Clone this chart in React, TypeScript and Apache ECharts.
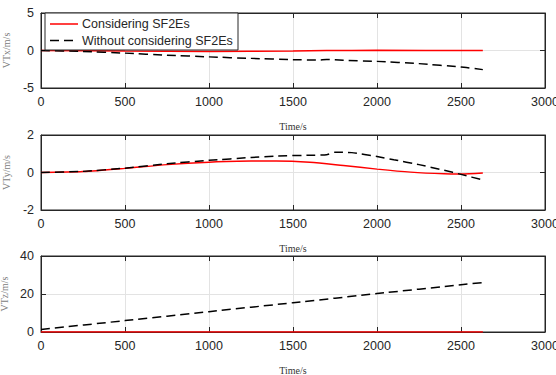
import React, { useEffect, useRef } from "react";
import * as echarts from "echarts";

const legendNames = ["Considering SF2Es", "Without considering SF2Es"];

// Panel 1: VTx
const tX_with = [0, 500, 1000, 1500, 1700, 2000, 2630];
const vX_with = [0, -0.08, -0.12, -0.08, 0, 0.02, 0];
const tX_without = [0, 250, 500, 750, 1000, 1250, 1500, 1650, 1700, 1800, 2000, 2250, 2500, 2630];
const vX_without = [0, -0.12, -0.35, -0.62, -0.85, -1.05, -1.22, -1.28, -1.2, -1.3, -1.45, -1.75, -2.2, -2.55];

// Panel 2: VTy
const tY_with = [0, 250, 500, 750, 1000, 1250, 1400, 1600, 1800, 2000, 2200, 2400, 2500, 2630];
const vY_with = [0, 0.05, 0.22, 0.42, 0.55, 0.61, 0.62, 0.55, 0.37, 0.18, 0.02, -0.07, -0.08, -0.03];
const tY_without = [0, 250, 500, 750, 1000, 1250, 1400, 1600, 1700, 1750, 1850, 2000, 2100, 2250, 2400, 2500, 2630];
const vY_without = [0, 0.06, 0.23, 0.47, 0.65, 0.8, 0.88, 0.92, 0.95, 1.08, 1.06, 0.85, 0.68, 0.42, 0.12, -0.1, -0.4];

// Panel 3: VTz
const tZ_with = [0, 2630];
const vZ_with = [0, 0];
const tZ_without = [0, 500, 1000, 1500, 2000, 2500, 2630];
const vZ_without = [1.3, 6.0, 10.7, 15.4, 20.2, 24.9, 26.0];

const yNames = ["VTx/m/s", "VTy/m/s", "VTz/m/s"];
const yRanges = [
  { min: -5, max: 5, interval: 5 },
  { min: -2, max: 2, interval: 2 },
  { min: 0, max: 40, interval: 20 },
];
const gridTops = [13, 135, 256];
const gridHeights = [75, 75, 76];

const zip = (t: number[], v: number[]) => t.map((x, i) => [x, v[i]]);

export default function App() {
  const ref = useRef<HTMLDivElement>(null);
  useEffect(() => {
    if (!ref.current) return;
    const chart = echarts.init(ref.current, undefined, { renderer: "svg" });
    const axisColor = "#262626";
    const labelFont = { color: axisColor, fontFamily: "Liberation Sans, Arial", fontSize: 12.5 };
    const fmt = (v: number) => String(v);
    const grids = gridTops.map((top, i) => ({
      left: 41,
      top,
      width: 504,
      height: gridHeights[i],
      containLabel: false,
      outerBoundsMode: "none",
      show: true,
      borderColor: axisColor,
      borderWidth: 1,
      backgroundColor: "#fff",
    }));
    const xAxes: any[] = [];
    const yAxes: any[] = [];
    gridTops.forEach((_, i) => {
      xAxes.push({
        type: "value",
        gridIndex: i,
        min: 0,
        max: 3000,
        interval: 500,
        position: "bottom",
        name: "Time/s",
        nameLocation: "middle",
        nameGap: 33,
        nameTextStyle: { fontFamily: "Liberation Serif, Times New Roman", fontSize: 10, color: "#333" },
        axisLine: { show: true, onZero: false, lineStyle: { color: axisColor } },
        axisTick: { show: true, inside: true, length: 5, lineStyle: { color: axisColor } },
        axisLabel: { ...labelFont, margin: 7, formatter: fmt, showMinLabel: true, showMaxLabel: true },
        splitLine: { show: true, lineStyle: { color: "#e3e3e3", width: 1 } },
      });
      xAxes.push({
        type: "value",
        gridIndex: i,
        min: 0,
        max: 3000,
        interval: 500,
        position: "top",
        axisLine: { show: true, onZero: false, lineStyle: { color: axisColor } },
        axisTick: { show: true, inside: true, length: 5, lineStyle: { color: axisColor } },
        axisLabel: { show: false },
        splitLine: { show: false },
      });
      yAxes.push({
        type: "value",
        gridIndex: i,
        ...yRanges[i],
        position: "left",
        name: yNames[i],
        nameLocation: "middle",
        nameGap: 26,
        nameRotate: 90,
        nameTextStyle: { fontFamily: "Liberation Serif, Times New Roman", fontSize: 10, color: "#808080" },
        axisLine: { show: true, onZero: false, lineStyle: { color: axisColor } },
        axisTick: { show: true, inside: true, length: 5, lineStyle: { color: axisColor } },
        axisLabel: { ...labelFont, margin: 7, formatter: fmt },
        splitLine: { show: true, lineStyle: { color: "#e3e3e3", width: 1 } },
      });
      yAxes.push({
        type: "value",
        gridIndex: i,
        ...yRanges[i],
        position: "right",
        axisLine: { show: true, onZero: false, lineStyle: { color: axisColor } },
        axisTick: { show: true, inside: true, length: 5, lineStyle: { color: axisColor } },
        axisLabel: { show: false },
        splitLine: { show: false },
      });
    });
    const panels = [
      [zip(tX_with, vX_with), zip(tX_without, vX_without)],
      [zip(tY_with, vY_with), zip(tY_without, vY_without)],
      [zip(tZ_with, vZ_with), zip(tZ_without, vZ_without)],
    ];
    const series: any[] = [];
    panels.forEach((p, i) => {
      series.push({
        type: "line",
        name: legendNames[0],
        xAxisIndex: i * 2,
        yAxisIndex: i * 2,
        data: p[0],
        showSymbol: false,
        symbol: "none",
        smooth: 0.25,
        lineStyle: { color: "#ff0000", width: 1.5 },
        itemStyle: { color: "#ff0000" },
        z: 3,
      });
      series.push({
        type: "line",
        name: legendNames[1],
        xAxisIndex: i * 2,
        yAxisIndex: i * 2,
        data: p[1],
        showSymbol: false,
        symbol: "none",
        smooth: 0.15,
        lineStyle: { color: "#000", width: 1.5, type: [9, 5] },
        itemStyle: { color: "#000" },
        z: 4,
      });
    });
    // Legend drawn as graphic (MATLAB-style box)
    const lgLeft = 45, lgTop = 13, lgW = 193, lgH = 37;
    const rowY = [24, 40.5];
    const graphic: any[] = [
      {
        type: "rect",
        shape: { x: lgLeft, y: lgTop, width: lgW, height: lgH },
        style: { fill: "#fff", stroke: axisColor, lineWidth: 1 },
        z: 100,
      },
      {
        type: "line",
        shape: { x1: 50, y1: rowY[0], x2: 78, y2: rowY[0] },
        style: { stroke: "#ff0000", lineWidth: 1.5 },
        z: 101,
      },
      {
        type: "line",
        shape: { x1: 50, y1: rowY[1], x2: 78, y2: rowY[1] },
        style: { stroke: "#000", lineWidth: 1.5, lineDash: [9, 5] },
        z: 101,
      },
      ...legendNames.map((n, i) => ({
        type: "text",
        x: 82,
        y: rowY[i],
        style: {
          text: n,
          fill: axisColor,
          font: "12.5px 'Liberation Sans', Arial",
          textVerticalAlign: "middle",
          verticalAlign: "middle",
        },
        z: 101,
      })),
    ];
    chart.setOption({
      animation: false,
      backgroundColor: "#fff",
      grid: grids,
      xAxis: xAxes,
      yAxis: yAxes,
      series,
      graphic,
    });
    return () => chart.dispose();
  }, []);
  return (
    <div
      ref={ref}
      style={{ position: "fixed", left: 0, top: 0, width: 556, height: 375 }}
    />
  );
}
